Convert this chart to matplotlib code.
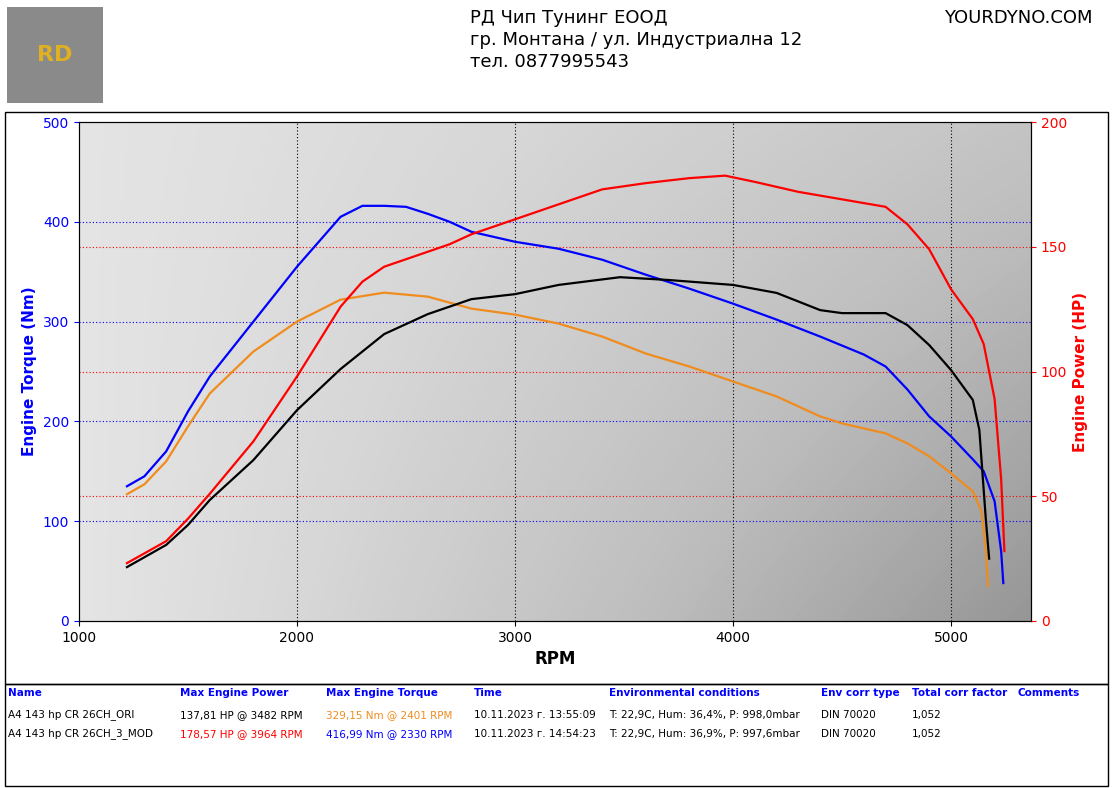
import numpy as np
import matplotlib.pyplot as plt
from matplotlib.patches import Rectangle

# MOD torque (Nm), blue
mod_tq_rpm = [1220, 1300, 1400, 1500, 1600, 1800, 2000, 2200, 2300, 2400, 2500, 2600, 2700, 2800, 3000, 3200, 3400,
              3600, 3800, 4000, 4200, 4400, 4600, 4700, 4800, 4900, 5000, 5100, 5150, 5200, 5230, 5240]
mod_tq = [135, 145, 170, 210, 245, 300, 355, 405, 416, 416, 415, 408, 400, 390, 380, 373, 362,
          347, 333, 318, 302, 285, 267, 255, 232, 205, 185, 162, 150, 120, 70, 38]
# ORI torque (Nm), orange
ori_tq_rpm = [1220, 1300, 1400, 1500, 1600, 1800, 2000, 2200, 2400, 2600, 2800, 3000, 3200, 3400, 3600, 3800, 4000,
              4200, 4400, 4500, 4700, 4800, 4900, 5000, 5100, 5140, 5160, 5170]
ori_tq = [127, 137, 160, 195, 228, 270, 300, 322, 329, 325, 313, 307, 298, 285, 268, 255, 240,
          225, 205, 198, 188, 178, 165, 148, 130, 110, 70, 35]
# MOD power (HP), red
mod_hp_rpm = [1220, 1400, 1500, 1600, 1800, 2000, 2200, 2300, 2400, 2600, 2700, 2800, 3000, 3200, 3400, 3600, 3800,
              3964, 4100, 4300, 4500, 4700, 4800, 4900, 5000, 5100, 5150, 5200, 5230, 5245]
mod_hp = [23.2, 32, 41, 51, 72, 98, 126, 136, 142, 148, 151, 155, 161, 167, 173, 175.5, 177.5,
          178.5, 176, 172, 169, 166, 159, 149, 133, 121, 111, 89, 57, 28]
# ORI power (HP), black
ori_hp_rpm = [1220, 1400, 1500, 1600, 1800, 2000, 2200, 2400, 2600, 2800, 3000, 3200, 3482, 3700, 4000, 4200, 4400,
              4500, 4700, 4800, 4900, 5000, 5100, 5130, 5160, 5175]
ori_hp = [21.6, 30.5, 38.5, 48.5, 64.5, 84.5, 101, 115, 123, 129, 131, 134.7, 137.8, 136.7, 134.7, 131.5, 124.6,
          123.4, 123.4, 118.6, 110.6, 100.6, 88.6, 76.6, 40.5, 25]

table_header = ["Name", "Max Engine Power", "Max Engine Torque", "Time", "Environmental conditions",
                "Env corr type", "Total corr factor", "Comments"]
table_rows = [
    ["A4 143 hp CR 26CH_ORI", "137,81 HP @ 3482 RPM", "329,15 Nm @ 2401 RPM", "10.11.2023 г. 13:55:09",
     "T: 22,9C, Hum: 36,4%, P: 998,0mbar", "DIN 70020", "1,052", ""],
    ["A4 143 hp CR 26CH_3_MOD", "178,57 HP @ 3964 RPM", "416,99 Nm @ 2330 RPM", "10.11.2023 г. 14:54:23",
     "T: 22,9C, Hum: 36,9%, P: 997,6mbar", "DIN 70020", "1,052", ""],
]
row_colors = [["black", "black", "#f08c1e", "black", "black", "black", "black", "black"],
              ["black", "red", "blue", "black", "black", "black", "black", "black"]]
col_x = [8, 180, 326, 474, 609, 821, 912, 1017]

fig = plt.figure(figsize=(11.14, 7.88), dpi=100)
W, H = 1114, 788

def fx(px):
    return px / W

def fy(py):
    return 1 - py / H

# frame boxes
fig.patches.append(Rectangle((fx(5), fy(684)), fx(1103), 572 / H, transform=fig.transFigure,
                             fill=False, edgecolor="black", lw=1))
fig.patches.append(Rectangle((fx(5), fy(786)), fx(1103), 102 / H, transform=fig.transFigure,
                             fill=False, edgecolor="black", lw=1))
# logo placeholder
fig.patches.append(Rectangle((fx(7), fy(103)), fx(96), 96 / H, transform=fig.transFigure,
                             facecolor="#8a8a8a", edgecolor="none"))
fig.text(fx(55), fy(55), "RD", color="#e0b020", fontsize=16, fontweight="bold", ha="center", va="center")

fig.text(fx(470), fy(18), "РД Чип Тунинг ЕООД", fontsize=13, va="center")
fig.text(fx(470), fy(40), "гр. Монтана / ул. Индустриална 12", fontsize=13, va="center")
fig.text(fx(470), fy(62), "тел. 0877995543", fontsize=13, va="center")
fig.text(fx(1093), fy(18), "YOURDYNO.COM", fontsize=13, va="center", ha="right")

ax = fig.add_axes([fx(79), fy(621), fx(1031) - fx(79), (621 - 122) / H])
gx = np.linspace(0, 1, 256).reshape(1, -1)
gy = np.linspace(0, 1, 256).reshape(-1, 1)
ax.imshow(0.5 * gx + 0.5 * gx * gy, extent=[1000, 5370, 0, 500], aspect="auto", cmap="Greys",
          vmin=-0.6, vmax=2.6, zorder=0)
ax.set_xlim(1000, 5367)
ax.set_ylim(0, 500)
ax.set_xticks([1000, 2000, 3000, 4000, 5000])
ax.set_yticks([0, 100, 200, 300, 400, 500])
for v in [2000, 3000, 4000, 5000]:
    ax.axvline(v, color="black", ls=(0, (1, 2)), lw=0.8, zorder=1)
for v in [100, 200, 300, 400]:
    ax.axhline(v, color="blue", ls=(0, (1, 2)), lw=0.8, zorder=1)
for v in [50, 100, 150]:
    ax.axhline(v * 2.5, color="red", ls=(0, (1, 2)), lw=0.8, zorder=1)
ax.tick_params(axis="y", colors="blue", labelsize=10)
ax.tick_params(axis="x", labelsize=10)
ax.set_xlabel("RPM", fontsize=12, fontweight="bold")
ax.set_ylabel("Engine Torque (Nm)", color="blue", fontsize=11, fontweight="bold")

ax2 = ax.twinx()
ax2.set_ylim(0, 200)
ax2.set_yticks([0, 50, 100, 150, 200])
ax2.tick_params(axis="y", colors="red", labelsize=10)
ax2.set_ylabel("Engine Power (HP)", color="red", fontsize=11, fontweight="bold")

ax.plot(ori_tq_rpm, ori_tq, color="#f08c1e", lw=1.6, zorder=3)
ax.plot(mod_tq_rpm, mod_tq, color="blue", lw=1.6, zorder=3)
ax2.plot(ori_hp_rpm, ori_hp, color="black", lw=1.6)
ax2.plot(mod_hp_rpm, mod_hp, color="red", lw=1.6)

for x, h in zip(col_x, table_header):
    fig.text(fx(x), fy(693), h, color="blue", fontsize=7.5, fontweight="bold", va="center")
for r, (row, cols) in enumerate(zip(table_rows, row_colors)):
    for x, t, c in zip(col_x, row, cols):
        fig.text(fx(x), fy(715 + 19 * r), t, color=c, fontsize=7.5, va="center")

fig.savefig("out.png", dpi=100)
